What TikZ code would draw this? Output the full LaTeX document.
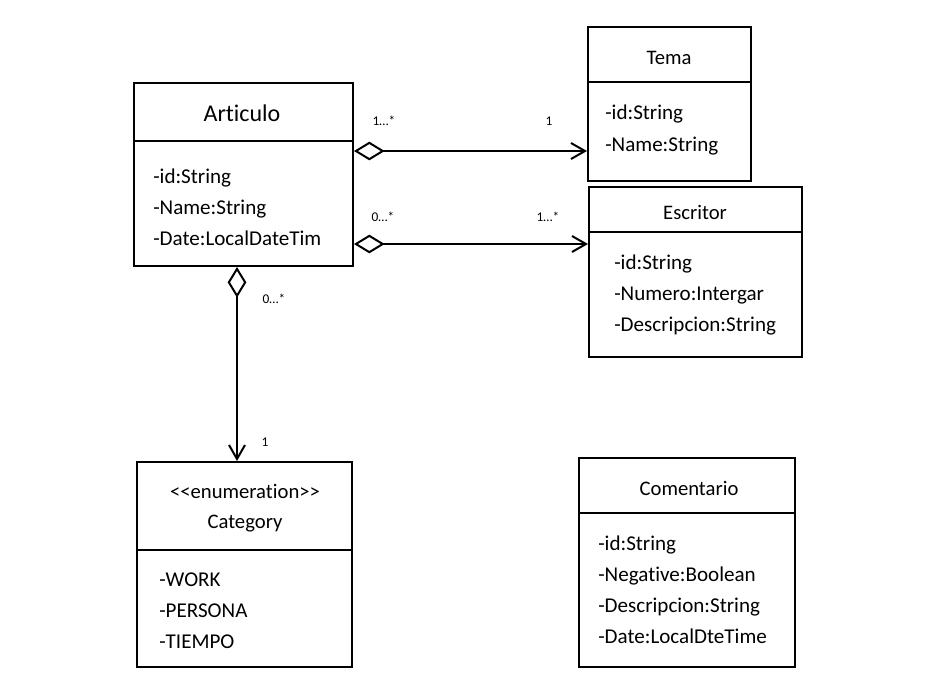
\documentclass[tikz,border=0pt]{standalone}
\usepackage{fontspec}
\setmainfont{Carlito}[Ligatures={TeXOff,CommonOff}]
\usetikzlibrary{arrows.meta,fit,positioning}

\tikzset{
  classbox/.style={draw, line width=1.5pt, rectangle, inner sep=0pt},
  divider/.style={line width=1.5pt},
  ctitle/.style={inner sep=0pt, anchor=base, font=\fontsize{15.5}{18}\selectfont},
  attr/.style={inner sep=0pt, anchor=base west, font=\fontsize{15.8}{18}\selectfont},
  mult/.style={inner sep=0pt, font=\fontsize{10}{12}\selectfont},
  agg/.style={line width=1.5pt,
    {Diamond[open, length=23pt, width=14pt]}-{Straight Barb[length=10.5pt, width=12pt]}},
}

\begin{document}
\begin{tikzpicture}[x=0.75pt, y=-0.75pt]
  \useasboundingbox (0,0) rectangle (945,694);

  % classes
  \node [classbox, fit={(134,83) (353,266)}] (art) {};
  \node [classbox, fit={(588,27) (751,181)}] (tema) {};
  \node [classbox, fit={(589,187) (802,357)}] (escritor) {};
  \node [classbox, fit={(137,462) (352,667)}] (cat) {};
  \node [classbox, fit={(579,458) (795,667)}] (coment) {};

  \draw [divider] (art.west |- 0,141) -- (art.east |- 0,141);
  \draw [divider] (tema.west |- 0,82) -- (tema.east |- 0,82);
  \draw [divider] (escritor.west |- 0,232) -- (escritor.east |- 0,232);
  \draw [divider] (cat.west |- 0,550) -- (cat.east |- 0,550);
  \draw [divider] (coment.west |- 0,513) -- (coment.east |- 0,513);

  % Articulo
  \node [ctitle, font=\fontsize{18}{22}\selectfont] (art_t) at (242,121) {Articulo};
  \node [attr] (art_a1) at (153,183) {-id:String};
  \node [attr] (art_a2) at (153,214) {-Name:String};
  \node [attr] (art_a3) at (153,245) {-Date:LocalDateTim};

  % Tema
  \node [ctitle] (tema_t) at (669,64) {Tema};
  \node [attr] (tema_a1) at (605,119) {-id:String};
  \node [attr] (tema_a2) at (605,151) {-Name:String};

  % Escritor
  \node [ctitle] (escritor_t) at (695,219) {Escritor};
  \node [attr] (escritor_a1) at (614,269) {-id:String};
  \node [attr] (escritor_a2) at (614,300) {-Numero:Intergar};
  \node [attr] (escritor_a3) at (614,331) {-Descripcion:String};

  % Category
  \node [ctitle] (cat_s) at (245,498) {<<enumeration>>};
  \node [ctitle] (cat_t) at (245,528) {Category};
  \node [attr] (cat_a1) at (159,586) {-WORK};
  \node [attr] (cat_a2) at (159,617) {-PERSONA};
  \node [attr] (cat_a3) at (159,648) {-TIEMPO};

  % Comentario
  \node [ctitle] (coment_t) at (689,495) {Comentario};
  \node [attr] (coment_a1) at (598,550) {-id:String};
  \node [attr] (coment_a2) at (598,581) {-Negative:Boolean};
  \node [attr] (coment_a3) at (598,612) {-Descripcion:String};
  \node [attr] (coment_a4) at (598,643) {-Date:LocalDteTime};

  % associations
  \draw [agg] (art.east |- 0,151) -- (tema.west |- 0,151);
  \draw [agg] (art.east |- 0,244) -- (escritor.west |- 0,244);
  \draw [agg] (art.south -| 237,0) -- (cat.north -| 237,0);

  \node [mult] (m_art_tema) at (384,121) {1…*};
  \node [mult] (m_tema) at (549,121) {1};
  \node [mult] (m_art_esc) at (383,217) {0…*};
  \node [mult] (m_esc) at (548,217) {1…*};
  \node [mult] (m_art_cat) at (274,299) {0…*};
  \node [mult] (m_cat) at (265,442) {1};
\end{tikzpicture}
\end{document}
